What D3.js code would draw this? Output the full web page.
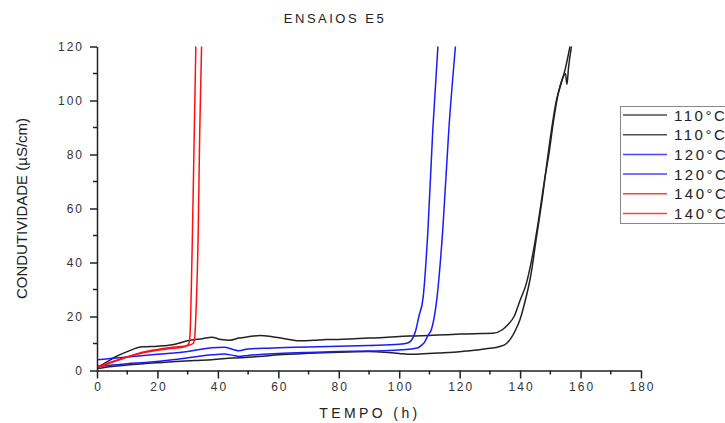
<!DOCTYPE html>
<html><head><meta charset="utf-8">
<script src="https://cdn.jsdelivr.net/npm/d3@7"></script>
<style>
html,body{margin:0;padding:0;background:#fff;}
svg{display:block;font-family:"Liberation Sans",Arial,sans-serif;}
</style></head>
<body><svg id="c" width="725" height="423"></svg>
<script>
const title = "ENSAIOS E5";
const xLabel = "TEMPO (h)";
const yLabel = "CONDUTIVIDADE (µS/cm)";
const xTicks = [0,20,40,60,80,100,120,140,160,180];
const yTicks = [0,20,40,60,80,100,120];
const legendLabels = ["110°C","110°C","120°C","120°C","140°C","140°C"];
const seriesColors = ["#222","#222","#1a1aff","#1a1aff","#ff1010","#ff1010"];

// [tempo (h), condutividade]
const s110a = [[0,1],[3,3],[6,5],[10,7],[15,8.8],[20,9],[25,9.5],[30,11],[35,11.8],[38,12.3],[41,11.5],[44,11.2],[47,12],[50,12.5],[54,13],[58,12.5],[62,11.8],[67,11],[72,11.2],[76,11.5],[80,11.5],[85,11.8],[90,12],[95,12.2],[100,12.6],[105,12.8],[110,13],[115,13.2],[120,13.5],[127,13.7],[131,13.8],[134,15],[136,17],[138,20],[140,26],[142,32],[144,42],[146,55],[148,70],[149.5,80],[151,92],[152.5,102],[154,108],[155,110],[155.5,106],[156,112],[157,120]];
const s110b = [[0,0.7],[5,1.5],[10,2],[16,2.6],[25,3.2],[32,3.7],[38,4],[45,4.6],[50,4.9],[55,5.3],[60,5.8],[70,6.4],[80,6.8],[90,7],[95,6.8],[100,6.3],[103,6],[108,6.2],[113,6.5],[118,6.8],[122,7.2],[126,7.6],[130,8.2],[133,8.8],[135.5,10],[137,12],[138.5,15],[140,19],[141.5,25],[143.5,35],[145.5,50],[147.5,65],[149,78],[150.5,90],[152,100],[153.5,106],[155,112],[156.5,120]];
const s120a = [[0,4],[5,4.5],[10,5],[20,6],[30,7],[35,8],[38,8.4],[42,8.6],[45,7.8],[47,7.3],[50,8],[55,8.2],[60,8.4],[70,8.7],[80,9],[90,9.3],[100,9.7],[103,10.3],[104.5,12],[105.5,15],[106.5,20],[107.9,27],[109.5,52],[111.1,89],[112.8,120]];
const s120b = [[0,1.5],[5,2],[10,2.5],[16,3],[25,4],[32,5],[38,5.8],[42,6.1],[45,5.6],[47,5.2],[50,5.6],[55,6],[60,6.3],[70,6.7],[80,7],[90,7.2],[100,7.6],[104,8],[106,8.3],[107.5,9.5],[108.4,10.5],[109.5,13],[110.6,15],[112.5,27],[114.4,52],[116.4,89],[118.6,120]];
const s140a = [[0,1],[5,3],[10,5],[15,6.5],[20,7.5],[25,8.2],[29,8.8],[30.3,9.8],[30.7,12],[31,20],[31.6,52],[32.2,89],[32.7,120]];
const s140b = [[0,1.5],[5,3.3],[10,5],[15,6.8],[20,7.8],[25,8.6],[30,9.2],[31.8,10],[32.3,12],[32.7,20],[33.5,52],[34,89],[34.6,120]];
const seriesData = [s110a,s110b,s120a,s120b,s140a,s140b];

const svg = d3.select("#c");
const m = {l:97, r:641, t:46.5, b:370.5};
const x = d3.scaleLinear().domain([0,180]).range([m.l,m.r]);
const y = d3.scaleLinear().domain([0,120]).range([m.b,m.t]);

svg.append("defs").append("clipPath").attr("id","pc")
  .append("rect").attr("x",m.l).attr("y",m.t-1).attr("width",m.r-m.l).attr("height",m.b-m.t+1);

const line = d3.line().x(d=>x(d[0])).y(d=>y(d[1])).curve(d3.curveMonotoneX);
const g = svg.append("g").attr("clip-path","url(#pc)");
seriesData.forEach((s,i)=>{
  g.append("path").attr("d",line(s)).attr("fill","none")
   .attr("stroke",seriesColors[i]).attr("stroke-width",1.5).attr("stroke-linejoin","round");
});

// axes
const minorX = d3.range(10,180,20), minorY = d3.range(10,120,20);
const xAxis = d3.axisBottom(x).tickValues(xTicks).tickSize(8).tickSizeOuter(0).tickPadding(4);
const yAxis = d3.axisLeft(y).tickValues(yTicks).tickSize(7).tickSizeOuter(0).tickPadding(6);
const gx = svg.append("g").attr("transform",`translate(0,${m.b})`).call(xAxis);
const gy = svg.append("g").attr("transform",`translate(${m.l},0)`).call(yAxis);
gx.append("g").selectAll("line").data(minorX).join("line")
  .attr("x1",d=>x(d)).attr("x2",d=>x(d)).attr("y1",0).attr("y2",4).attr("stroke","#222").attr("stroke-width",1.5);
gy.append("g").selectAll("line").data(minorY).join("line")
  .attr("y1",d=>y(d)).attr("y2",d=>y(d)).attr("x1",0).attr("x2",-4).attr("stroke","#222").attr("stroke-width",1.5);
[gx,gy].forEach(a=>{
  a.select(".domain").attr("stroke","#222").attr("stroke-width",1.5);
  a.selectAll(".tick line").attr("stroke","#222").attr("stroke-width",1.5);
  a.selectAll(".tick text").attr("fill","#333").style("font-size","12px").style("letter-spacing","2px")
   .style("font-family","Liberation Sans, Arial, sans-serif");
});
gx.selectAll(".tick text").attr("dx","1px");

// title & labels
svg.append("text").attr("x",335).attr("y",23).attr("text-anchor","middle")
  .style("font-size","13px").style("letter-spacing","2.5px").attr("fill","#222").text(title);
svg.append("text").attr("x",370).attr("y",418).attr("text-anchor","middle")
  .style("font-size","14px").style("letter-spacing","3.4px").attr("fill","#222").text(xLabel);
svg.append("text").attr("transform",`translate(27,${(m.t+m.b)/2}) rotate(-90)`).attr("text-anchor","middle")
  .style("font-size","15px").attr("fill","#222").text(yLabel);

// legend
const lg = svg.append("g");
lg.append("rect").attr("x",620.5).attr("y",106.5).attr("width",120).attr("height",117)
  .attr("fill","#fff").attr("stroke","#888").attr("stroke-width",1);
legendLabels.forEach((t,i)=>{
  const yy = 115 + i*19.7;
  lg.append("line").attr("x1",623).attr("x2",667).attr("y1",yy).attr("y2",yy)
    .attr("stroke",seriesColors[i]).attr("stroke-width",1.5).attr("opacity",0.8);
  lg.append("text").attr("x",674).attr("y",yy+5.5).style("font-size","15px").style("letter-spacing","2.5px")
    .attr("fill","#222").text(t);
});
</script></body></html>
